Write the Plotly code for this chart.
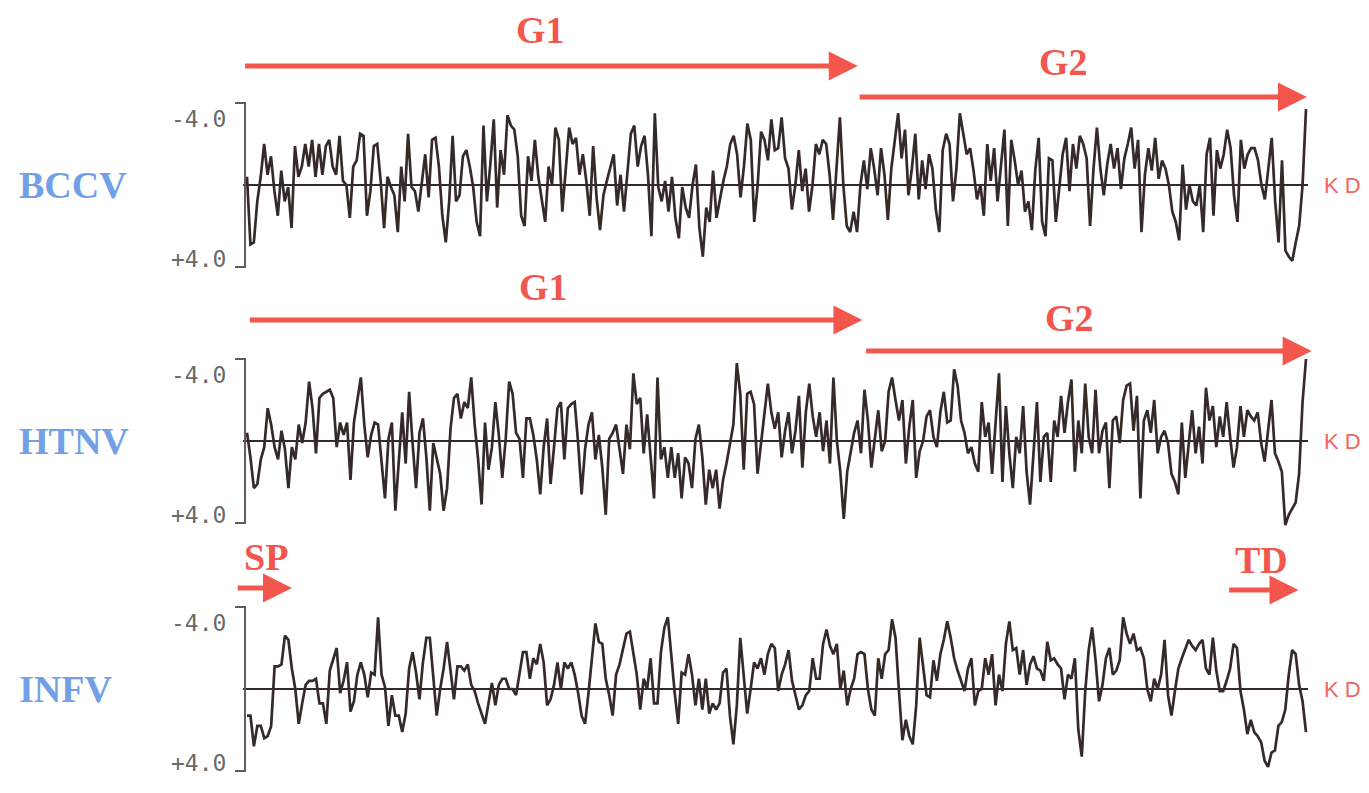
import numpy as np
import plotly.graph_objects as go

W, H = 1369, 793
PAGE_MARGIN = 8                      # default body margin of the html page
FW, FH = W - PAGE_MARGIN, H - PAGE_MARGIN

# ---------------- data (Kyte-Doolittle hydropathy) ----------------
bccv_kd = [
    -0.4, 2.9, 2.8, 0.8, -0.4, -2.0, -0.5, -1.4, 0.3, 1.5,
    -0.7, 0.8, 0.1, 2.1, -1.9, -0.4, -0.9, -2.0, -0.9, -2.2,
    -0.4, -2.0, -0.5, -1.9, -2.2, -0.9, -0.5, -2.4, -0.2, 0.0,
    1.6, -0.9, -1.2, -2.5, -2.4, 1.5, 0.3, -1.9, -2.0, -0.2,
    2.1, -0.4, 0.1, 0.5, 2.3, -0.9, 0.8, -2.5, 0.1, 0.3,
    1.3, -0.2, -1.5, 0.6, -2.2, -2.3, -0.9, 1.5, 2.8, 0.8,
    -2.4, 0.8, 0.5, -1.4, -1.7, -0.9, 0.1, 1.8, 2.5, -2.9,
    0.8, -1.0, -3.2, 1.1, -1.7, -0.5, -3.4, -2.9, -2.7, -1.4,
    1.5, 2.0, -1.4, -0.2, -2.2, -0.4, 0.8, 1.8, -0.9, 0.0,
    -2.8, -2.2, 1.3, -0.9, -2.8, -2.0, -2.3, -0.5, -1.5, -0.2,
    1.5, -1.9, 0.6, 2.2, 0.5, -0.2, -0.9, -1.5, 1.0, -0.5,
    1.3, -0.7, -2.5, -2.9, -0.9, -1.9, -2.4, -0.5, 2.5, -3.5,
    0.1, 0.8, -0.2, 1.3, -0.4, 1.6, 2.6, 0.1, 1.1, 1.6,
    0.0, -1.0, 2.1, 3.5, 1.1, 1.8, -0.7, 1.6, 0.6, -0.2,
    -0.9, -2.0, -2.4, -1.5, 0.6, -0.9, -3.0, -2.2, 1.8, 0.0,
    -2.6, -2.2, -1.2, -3.2, -1.7,
    -1.8, -3.3, -1.3, -0.8, 1.2, 0.0, -1.7, 0.3, -0.8, 1.3,
    0.0, -2.0, -1.5, -2.2, -2.0, -0.5, 1.7, -0.8, -3.3, 0.0,
    2.0, 2.3, 1.3, 2.3, 0.0, -1.2, 0.2, -1.8, -0.8, 0.5,
    -1.8, -0.5, 1.7, -0.8, -2.2, -3.5, -1.3, -2.7, 0.5, -0.8,
    -2.5, 0.7, -1.2, 0.2, -1.5, -0.8, 1.2, 2.3, -1.7, -2.5,
    -2.0, 0.8, -0.8, -3.5, -2.5, -1.5, -1.8, -0.7, 0.7, 0.0,
    1.5, -2.0, -0.2, -1.8, 0.8, -0.8, -2.7, 2.0, -2.2, -1.2,
    0.0, -0.7, 1.3, 0.8, 2.2, -0.7, -2.3, 1.8, 2.5, -1.3,
    -1.2, 1.8, 0.2, -1.5, -2.3, 0.3, -2.0, -0.8, -2.4, -2.0,
    -1.3, 2.0, -0.8, -2.8, -0.8, 0.5, -1.0, -2.0, -0.8, -1.8,
    0.2, -1.3, -2.0, -2.8, -0.8, -2.2, 2.3, -0.5, -1.8, -0.7,
    -2.3, -0.3, -1.2, -0.8, 0.0, 1.3, 1.8, 2.7, -1.0, 1.2,
    0.0, 0.8, 1.0, 0.0, 2.3, -1.5, -2.3, 1.5, -1.7, -0.8,
    -1.5, -2.7, -1.8, 0.5, 1.8, -2.2, -0.8, -1.5, -1.8, -1.8,
    -1.2, 0.0, 0.7, -0.8, -2.3, 0.8, 2.8, -1.2, 3.2, 3.5,
    3.7, 2.8, 2.0, 0.0, -3.7,
]

htnv_kd = [
    -0.4,
    0.8, 2.3, 2.1, 0.9, 0.3, -1.6, -0.8, 0.3, 0.9, -0.5,
    0.4, 2.3, 0.3, 0.9, -0.8, 0.1, -0.9, -2.9, -1.6, 0.6,
    -2.1, -2.3, -2.4, -2.5, -2.1, 0.3, -0.9, -0.3, -0.9, 1.9,
    -0.9, -2.1, -3.1, -0.8, 0.8, -0.3, -0.9, -0.8, 0.9, 2.8,
    -0.1, -0.9, 3.4, 0.9, -1.4, 1.1, -2.4, 0.1, 2.3, -0.4,
    -1.1, 0.8, 3.4, 0.1, 0.9, 1.6, 3.4, 2.3, -0.6, -2.1,
    -2.3, -1.1, -1.9, -1.6, -3.1, -0.8, 0.9, 3.1, -0.9, 1.4,
    0.3, -1.9, -0.3, 1.8, -0.1, -2.9, -2.3, -0.4, -0.1, 1.8,
    -1.1, -1.1, -0.3, 0.9, 2.6, 0.3, -1.1, 2.1, 0.3, -1.6,
    -1.9, 0.9, -1.6, -1.8, -1.9, 0.1, 2.6, 0.4, -0.8, -1.4,
    0.9, -0.3, 1.3, 3.6, -0.1, -0.4, -0.8, 0.3, 1.6, -0.8,
    0.4, -3.3, -1.8, -2.1, 0.6, -1.3, 0.9, 2.8, -3.1, 0.9,
    0.3, 1.8, 0.3, 1.8, 0.6, 2.8, 0.8, 1.1, 2.3, -0.1,
    -0.8, 0.8, 3.1, 1.4, 2.3, 1.4, 3.3, 1.9, 1.1, 0.1,
    -0.8, -3.8, -2.3, 1.4, -2.3, -2.4, -1.8, 1.6, 0.1, -1.3,
    -2.8, -1.4, -0.6,
    -1.4, 0.8, -0.5, -1.4, 0.6, -0.5, -2.2, 1.3, -1.4,
    -2.8, -1.2, -0.2, -1.4, 0.5, -1.0, 1.1, -3.1, 0.0, 1.5,
    3.8, 1.5, 0.6, -0.4, -1.0, 0.6, -2.5, -1.0, 1.3, -0.2,
    -1.5, 0.5, 0.0, -2.4, -3.1, -2.0, -1.0, -2.0, 1.1, -0.7,
    -2.0, 1.8, 0.5, 0.0, -1.2, -1.5, -0.2, 0.3, -1.4, -2.4,
    -0.9, -1.0, -3.5, -2.7, -1.0, -0.4, 0.6, 0.3, 1.1, 1.5,
    -1.9, -0.2, -0.9, 1.6, -1.0, -3.3, 2.0, -1.7, 0.6, 2.3,
    -0.2, 0.6, -1.7, 1.5, 3.1, 0.6, -1.9, 2.0, -0.2, -0.4,
    2.0, -1.0, -0.2, -2.2, -0.4, -1.9, -3.0, 1.5, -1.0, 0.6,
    -2.8, -0.2, 0.6, -2.5, 0.6, -0.5, -0.9, 2.3, -1.0, -1.2,
    0.1, -2.0, -2.7, -2.8, -0.5, -2.2, 2.8, -1.0, -1.5, -0.4,
    -2.0, 0.6, -0.2, -0.5, 0.1, 1.6, 2.0, 2.6, -0.9, 1.8,
    0.3, -1.5, 0.6, -0.7, 1.1, -2.6, -1.0, -1.7, 0.3, -1.2,
    -0.2, -1.9, -0.2, 1.3, 0.3, -1.7, -0.2, -1.5, -1.2, -1.0,
    -1.4, 0.1, 1.0, -0.4, -2.0, 0.6, 1.0, 1.5, 4.1, 3.6,
    3.3, 3.0, 1.6, -1.9, -4.0,
]

infv_kd = [
    1.3, 1.3, 2.8, 1.8, 1.8, 2.4, 2.3, 1.8, -1.1, -1.1,
    -1.2, -2.6, -2.4, -1.0, 0.0, 1.7, 0.7, -0.2, -0.4, -0.4,
    -0.5, 0.7, 0.7, 1.7, -0.9, -1.4, -2.0, 0.2, -0.4, -1.3,
    1.1, 0.6, -0.7, -1.3, -0.7, 0.4, -0.8, -0.7, -3.5, -0.7,
    -0.1, 1.8, 0.3, 1.3, 1.3, 2.1, 1.2, -1.0, -1.8, -0.8,
    0.5, -1.3, -2.5, -2.5, -0.7, 1.3, 0.0, -1.0, -2.3, -1.0,
    0.5, -1.1, -1.1, -0.9, -1.2, -0.2, 0.1, 0.7, 1.2, 1.7,
    0.7, -0.3, 0.8, -0.2, -0.5, -0.5, 0.0, 0.0, 0.3, -0.7,
    -1.8, -1.8, -0.5, -1.5, -1.2, -2.2, -1.3, 0.8, 0.5, -0.2,
    -1.3, 0.0, -1.3, -1.0, -1.3, -0.7, 0.2, 1.3, 1.7, 0.2,
    -1.7, -3.2, -2.3, -2.2, -0.5, 0.3, 1.3, -0.7, -1.2, -2.0,
    -2.7, -2.8, -1.8, -0.7, 1.0, -0.5, 0.0, -1.5, 0.7, 0.7,
    -1.8, -3.0, -3.5, -1.5, 0.2, 1.7, -0.8, -0.7, -1.7, -0.7,
    0.8, -0.5, 1.0, -0.5, 1.2, 0.7, 1.0, 0.7, -0.8, -1.0,
    1.3, 2.7, 0.8, -2.5, -0.7, 1.2, 0.0, -1.3, -1.0, -1.5,
    -0.7, -1.7, -2.2,
    -2.0, 0.1, -0.7, -1.2, -1.9, -0.4, 0.3, 1.0, 0.8, 0.3,
    0.1, -1.5, -0.5, -0.5, -2.2, -2.9, -2.1, -1.7, -2.2, 0.0,
    -0.9, 0.8, 0.0, -0.5, -1.7, -1.8, -1.7, 0.0, 1.0, 1.3,
    -1.5, -0.5, -1.7, -1.9, -3.4, -2.5, 0.1, 2.5, 1.5, 2.3,
    2.7, 0.8, -2.5, -1.0, 0.3, 0.4, -1.4, -0.4, -1.7, -2.4,
    -3.3, -2.5, -1.5, -0.9, -0.4, 0.1, -1.0, -1.5, 0.8, 0.1,
    0.0, -1.5, -0.7, -1.7, 0.8, -0.7, 0.1, -2.2, -3.3, -1.9,
    -2.0, -0.7, -1.9, -0.2, -1.2, -1.6, -1.0, -0.9, -0.4, -2.3,
    -1.4, -1.5, -1.2, -1.0, 0.5, -0.7, -0.5, -1.5, 2.0, 3.3,
    0.1, -1.9, -3.0, -1.4, 0.6, -0.2, -1.5, -2.0, -0.7, -0.9,
    -1.4, -3.5, -2.7, -2.2, -2.7, -1.9, -2.0, -1.5, 0.0, 0.6,
    -0.5, 0.0, -0.7, -2.4, 0.3, 1.3, 0.1, -1.0, -1.5, -2.0,
    -2.4, -2.1, -1.9, -2.2, -2.4, -1.0, -0.7, -2.5, -0.9, 0.1,
    0.1, -0.4, -1.0, -2.2, -2.0, 0.1, 1.0, 2.2, 1.5, 2.1,
    2.3, 2.6, 3.5, 3.8, 3.1, 3.0, 1.8, 1.6, 1.0, -0.7,
    -1.9, -1.7, -0.2, 0.6, 2.1,
]

# sequence lengths (residues)
bccv_len = 1135
htnv_len = 1135
infv_len = 566

# annotated regions: (label, start residue, end residue)
bccv_regions = [("G1", -1, 655), ("G2", 657, 1136)]
htnv_regions = [("G1", 4, 660), ("G2", 664, 1141)]
infv_regions = [("SP", -4, 25), ("TD", 525, 562)]

series_names = ["BCCV", "HTNV", "INFV"]

# ---------------- layout constants (page pixels) ----------------
X0_PX, X1_PX = 247, 1306      # first / last residue
DOM0_PX, DOM1_PX = 236, 1318  # x domain
PX_PER_UNIT = 20.5
HALF_PX = 95

TRACE_COLOR = "#352a27"
RED = "#f2564d"
BLUE = "#72a0e6"
GRAY = "#5e5e5e"

panels = [
    dict(vals=bccv_kd, L=bccv_len, regions=bccv_regions, z=185,
         arrow_y=[66, 97], label_y=[30, 62], label_x=[315, 875]),
    dict(vals=htnv_kd, L=htnv_len, regions=htnv_regions, z=441,
         arrow_y=[320, 351], label_y=[287, 318], label_x=[318, 882]),
    dict(vals=infv_kd, L=infv_len, regions=infv_regions, z=689,
         arrow_y=[588, 590], label_y=[557, 560], label_x=[11, 542]),
]

fig = go.Figure()
shapes = []
annotations = []
layout_axes = {}


def py(p):
    return 1 - (p - PAGE_MARGIN) / FH


def pxx(p):
    return (p - PAGE_MARGIN) / FW


TICK_FONT = dict(family="DejaVu Sans Mono, Liberation Mono", size=23, color="#6a6a6a")

for i, (name, P) in enumerate(zip(series_names, panels)):
    n = i + 1
    xa = "x" if n == 1 else f"x{n}"
    ya = "y" if n == 1 else f"y{n}"
    L = P["L"]
    k = (X1_PX - X0_PX) / (L - 1)           # pixels per residue
    xr = [1 - (X0_PX - DOM0_PX) / k, L + (DOM1_PX - X1_PX) / k]
    half = HALF_PX / PX_PER_UNIT
    z = P["z"]
    layout_axes[("xaxis" if n == 1 else f"xaxis{n}")] = dict(
        domain=[pxx(DOM0_PX), pxx(DOM1_PX)], range=xr, visible=False,
        anchor=ya, fixedrange=True)
    layout_axes[("yaxis" if n == 1 else f"yaxis{n}")] = dict(
        domain=[py(z + HALF_PX), py(z - HALF_PX)], range=[half, -half],
        visible=False, anchor=xa, fixedrange=True)

    vals = P["vals"]
    xs = np.linspace(1, L, len(vals))
    fig.add_trace(go.Scatter(x=xs, y=vals, mode="lines", xaxis=xa, yaxis=ya,
                             line=dict(color=TRACE_COLOR, width=2.7),
                             hoverinfo="skip", showlegend=False))

    # KD baseline
    shapes.append(dict(type="line", xref=xa, yref=ya,
                       x0=1 - 4 / k, x1=L + 2 / k, y0=0, y1=0,
                       line=dict(color=TRACE_COLOR, width=2)))
    # axis bracket
    shapes.append(dict(type="path", xref="paper", yref=ya,
                       path=f"M {pxx(235)},-4 L {pxx(245)},-4 L {pxx(245)},4 L {pxx(235)},4",
                       line=dict(color=GRAY, width=2)))
    annotations.append(dict(text="-4.0", xref="paper", yref=ya, x=pxx(228), y=-3.2,
                            xanchor="right", yanchor="middle", showarrow=False, font=TICK_FONT))
    annotations.append(dict(text="+4.0", xref="paper", yref=ya, x=pxx(228), y=3.6,
                            xanchor="right", yanchor="middle", showarrow=False, font=TICK_FONT))
    annotations.append(dict(text="K D", xref="paper", yref=ya, x=pxx(1342), y=0,
                            xanchor="center", yanchor="middle", showarrow=False,
                            font=dict(family="Liberation Sans, Arial", size=22, color="#ef6563")))
    annotations.append(dict(text=f"<b>{name}</b>", xref="paper", yref=ya, x=pxx(17), y=0,
                            xanchor="left", yanchor="middle", showarrow=False,
                            font=dict(family="Liberation Serif, Times New Roman", size=38, color=BLUE)))

    # region arrows
    hl = 29 / k
    hh = 14.5 / FH
    for (lab, s, e), ay, ly, lx in zip(P["regions"], P["arrow_y"], P["label_y"], P["label_x"]):
        yy = py(ay)
        shapes.append(dict(type="line", xref=xa, yref="paper", x0=s, x1=e - hl * 0.8,
                           y0=yy, y1=yy, line=dict(color=RED, width=5)))
        shapes.append(dict(type="path", xref=xa, yref="paper",
                           path=f"M {e},{yy} L {e - hl},{yy + hh} L {e - hl},{yy - hh} Z",
                           fillcolor=RED, line=dict(color=RED, width=0)))
        annotations.append(dict(text=f"<b>{lab}</b>", xref=xa, yref="paper", x=lx, y=py(ly),
                                xanchor="center", yanchor="middle", showarrow=False,
                                font=dict(family="Liberation Serif, Times New Roman", size=38, color=RED)))

fig.update_layout(
    width=FW, height=FH,
    margin=dict(l=0, r=0, t=0, b=0),
    paper_bgcolor="white", plot_bgcolor="white",
    showlegend=False,
    shapes=shapes, annotations=annotations,
    **layout_axes,
)

fig.write_html("out.html", config={"displayModeBar": False})
